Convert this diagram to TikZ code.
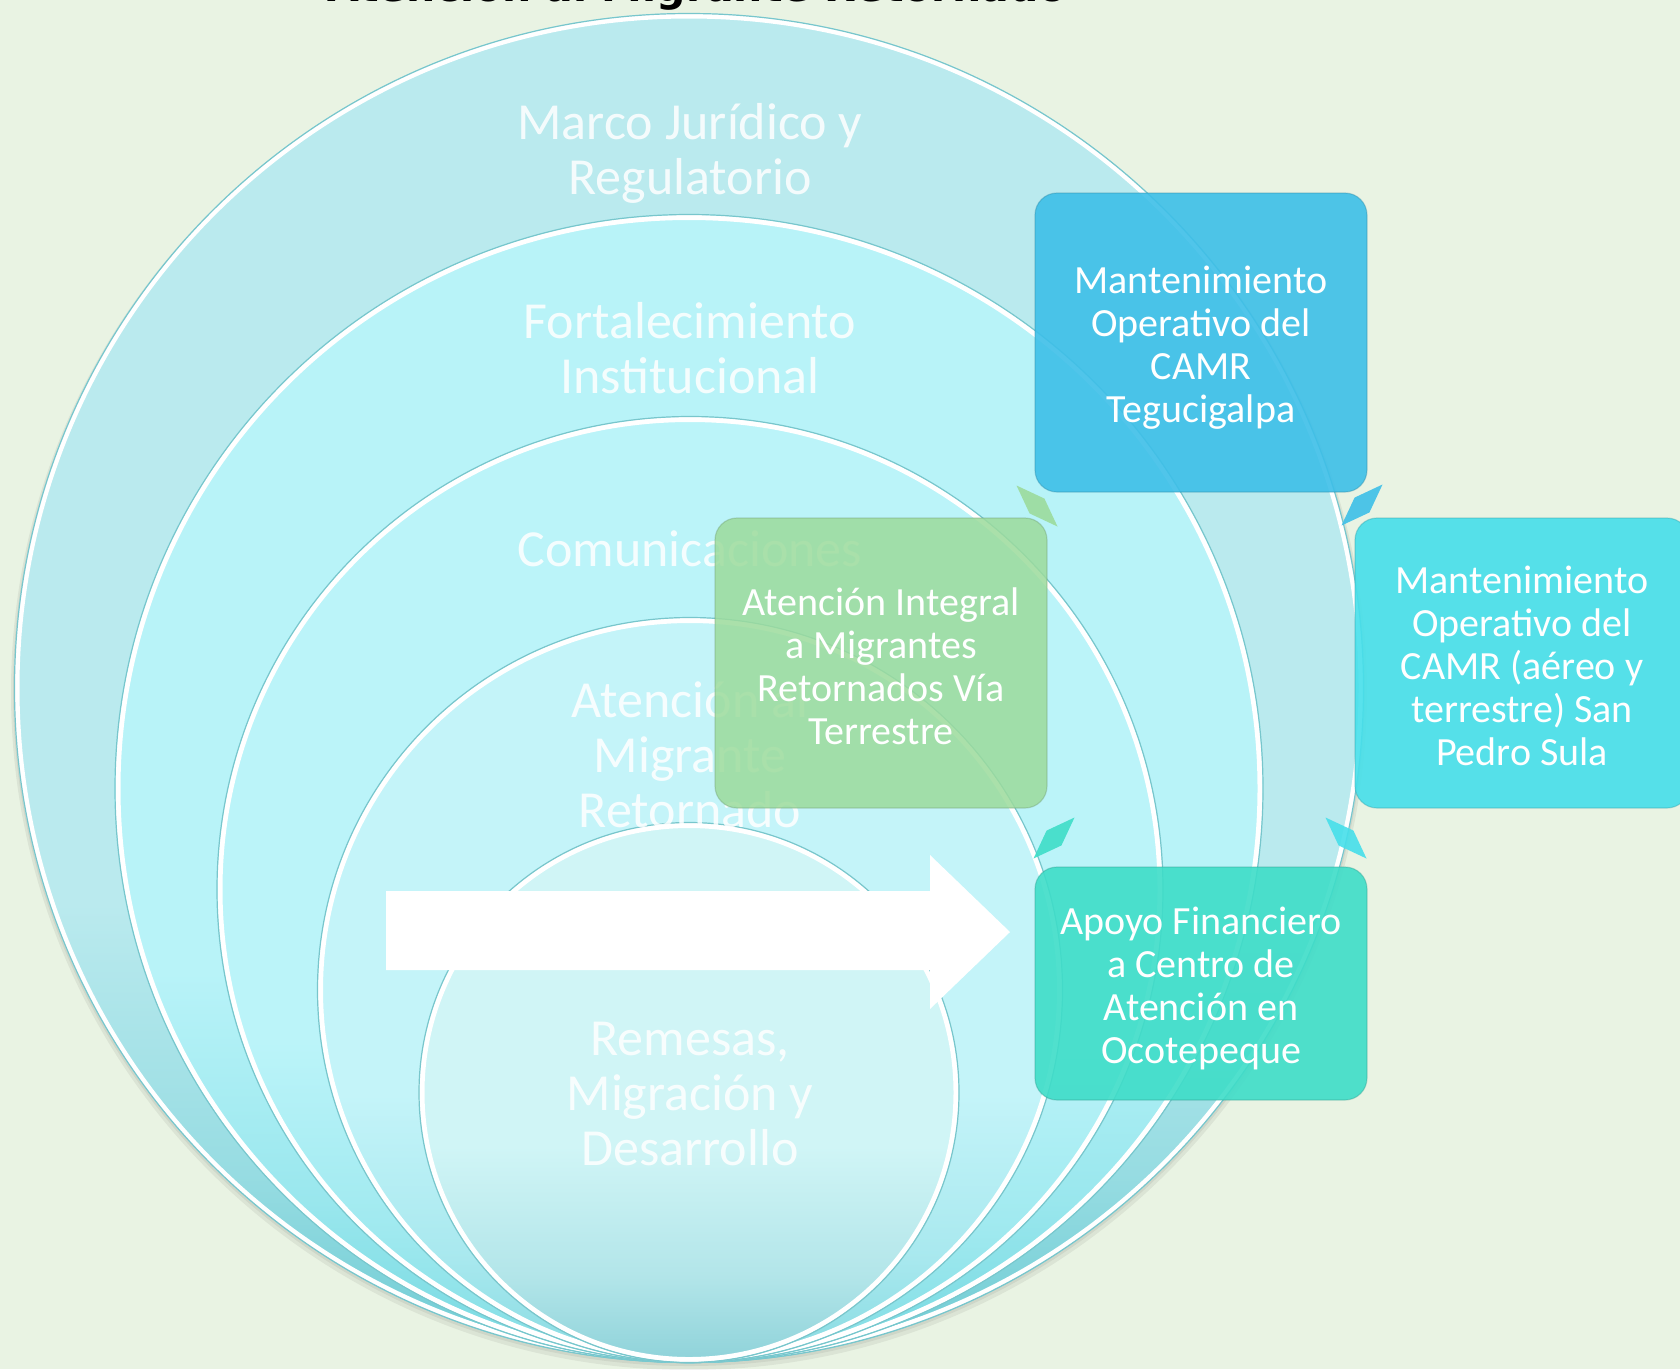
\documentclass[tikz,border=0pt]{standalone}
\usepackage{fontspec}
\usepackage{graphicx}
\setmainfont{Carlito}
\newfontfamily\titlefont{DejaVu Sans}
\usetikzlibrary{shapes.geometric}

\definecolor{bg}{HTML}{E9F3E3}
\definecolor{cA}{HTML}{BAEAEE}\definecolor{cAd}{HTML}{6CCBD3}
\definecolor{cB}{HTML}{B8F3F8}\definecolor{cBd}{HTML}{74D8E0}
\definecolor{cC}{HTML}{BBF4F9}\definecolor{cCd}{HTML}{7EDCE3}
\definecolor{cD}{HTML}{C4F4F9}\definecolor{cDd}{HTML}{86DAE1}
\definecolor{cE}{HTML}{D0F5F6}\definecolor{cEd}{HTML}{8ED2D9}
\definecolor{rim}{HTML}{78C6CC}
\definecolor{boxblue}{HTML}{3DBFE8}
\definecolor{boxcyan}{HTML}{46DFEA}
\definecolor{boxturq}{HTML}{3EDDC8}
\definecolor{boxgreen}{HTML}{9CDB9C}

\pgfdeclareverticalshading{shA}{100bp}{color(0bp)=(cAd); color(25bp)=(cAd); color(32bp)=(cA!55!cAd); color(42bp)=(cA); color(100bp)=(cA)}
\pgfdeclareverticalshading{shB}{100bp}{color(0bp)=(cBd); color(25bp)=(cBd); color(32bp)=(cB!55!cBd); color(42bp)=(cB); color(100bp)=(cB)}
\pgfdeclareverticalshading{shC}{100bp}{color(0bp)=(cCd); color(25bp)=(cCd); color(32bp)=(cC!55!cCd); color(42bp)=(cC); color(100bp)=(cC)}
\pgfdeclareverticalshading{shD}{100bp}{color(0bp)=(cDd); color(25bp)=(cDd); color(32bp)=(cD!55!cDd); color(43bp)=(cD); color(100bp)=(cD)}
\pgfdeclareverticalshading{shE}{100bp}{color(0bp)=(cEd); color(25bp)=(cEd); color(33bp)=(cE!55!cEd); color(45bp)=(cE); color(100bp)=(cE)}

\tikzset{
  ring/.style={circle, inner sep=0pt},
  hilite/.style={draw=white, line width=5pt},
  edge/.style={draw=rim, line width=1.2pt},
  circtext/.style={text=white, text opacity=0.85, align=center, inner sep=0pt,
    font=\fontsize{52}{55}\selectfont},
  boxnode/.style={rounded corners=22pt, inner sep=0pt,
    fill opacity=0.9, draw opacity=0.35, line width=1.2pt},
  boxtext/.style={align=center, text=white, inner sep=0pt,
    font=\fontsize{40}{43}\selectfont},
  pics/rhomb/.style={code={\fill (-29,0) -- (0,10.5) -- (29,0) -- (0,-10.5) -- cycle;}}
}

\begin{document}
\begin{tikzpicture}[x=1pt, y=-1pt]
\useasboundingbox (0,0) rectangle (1680,1369);
\fill[bg] (0,0) rectangle (1680,1369);

% soft shadow under the stack
\fill[black, opacity=0.06] (689,692) circle[radius=678];
\fill[black, opacity=0.06] (689,690) circle[radius=676];

% nested circles
\node[ring, minimum size=1350pt, shading=shA] (c1) at (689,688) {};
\draw[hilite] (c1.center) circle[radius=672];
\draw[edge] (c1.center) circle[radius=674.5];
\node[ring, minimum size=1149pt, shading=shB] (c2) at (689,788.5) {};
\draw[hilite] (c2.center) circle[radius=571];
\draw[edge] (c2.center) circle[radius=574];
\node[ring, minimum size=947pt, shading=shC] (c3) at (690,889.5) {};
\draw[hilite] (c3.center) circle[radius=470];
\draw[edge] (c3.center) circle[radius=473];
\node[ring, minimum size=746pt, shading=shD] (c4) at (690,990) {};
\draw[hilite] (c4.center) circle[radius=369.5];
\draw[edge] (c4.center) circle[radius=372.5];
\node[ring, minimum size=541pt, shading=shE] (c5) at (689,1092.5) {};
\draw[hilite] (c5.center) circle[radius=267];
\draw[edge] (c5.center) circle[radius=270];

% circle labels
\node[circtext] (t1) at (690,153) {Marco Jurídico y\\Regulatorio};
\node[circtext] (t2) at (690,348) {Fortalecimiento\\Institucional};
\node[circtext] (t3) at (690,549) {Comunicaciones};
\node[circtext] (t4) at (690,755) {Atención al\\Migrante\\Retornado};
\node[circtext] (t5) at (690,1094) {Remesas,\\Migración y\\Desarrollo};

% big white arrow
\fill[white] (386,891) -- (930,891) -- (930,855) -- (1010,932) -- (930,1009) -- (930,970) -- (386,970) -- cycle;

% boxes
\node[boxnode, fill=boxblue, draw=boxblue!70!black, minimum width=332pt, minimum height=299pt] (tbox) at (1201,342.5) {};
\node[boxtext] (tboxtext) at ([yshift=-5pt]tbox.center) {Mantenimiento\\Operativo del\\CAMR\\Tegucigalpa};
\node[boxnode, fill=boxcyan, draw=boxcyan!70!black, minimum width=334pt, minimum height=290pt] (rbox) at (1522,663) {};
\node[boxtext] (rboxtext) at ([yshift=-3pt]rbox.center) {Mantenimiento\\Operativo del\\CAMR (aéreo y\\terrestre) San\\Pedro Sula};
\node[boxnode, fill=boxturq, draw=boxturq!70!black, minimum width=332pt, minimum height=233pt] (dbox) at (1201,983.5) {};
\node[boxtext] (dboxtext) at ([yshift=-5pt]dbox.center) {Apoyo Financiero\\a Centro de\\Atención en\\Ocotepeque};
\node[boxnode, fill=boxgreen, fill opacity=0.85, draw=boxgreen!70!black, minimum width=332pt, minimum height=290pt] (lbox) at (881,663) {};
\node[boxtext] (lboxtext) at ([yshift=-3pt]lbox.center) {Atención Integral\\a Migrantes\\Retornados Vía\\Terrestre};

% cycle markers
\pic[fill=boxgreen, fill opacity=0.9, rotate=-45] at (1037,506) {rhomb};
\pic[fill=boxblue, fill opacity=0.9, rotate=45] at (1362,505) {rhomb};
\pic[fill=boxturq, fill opacity=0.9, rotate=45] at (1054,838) {rhomb};
\pic[fill=boxcyan, fill opacity=0.9, rotate=-45] at (1346,838) {rhomb};

% title (cut off at the top edge, as in the reference)
\node[anchor=base, inner sep=0pt] (title) at (697,1)
  {\resizebox{739pt}{!}{\titlefont\bfseries Atención al Migrante Retornado}};
\end{tikzpicture}
\end{document}
